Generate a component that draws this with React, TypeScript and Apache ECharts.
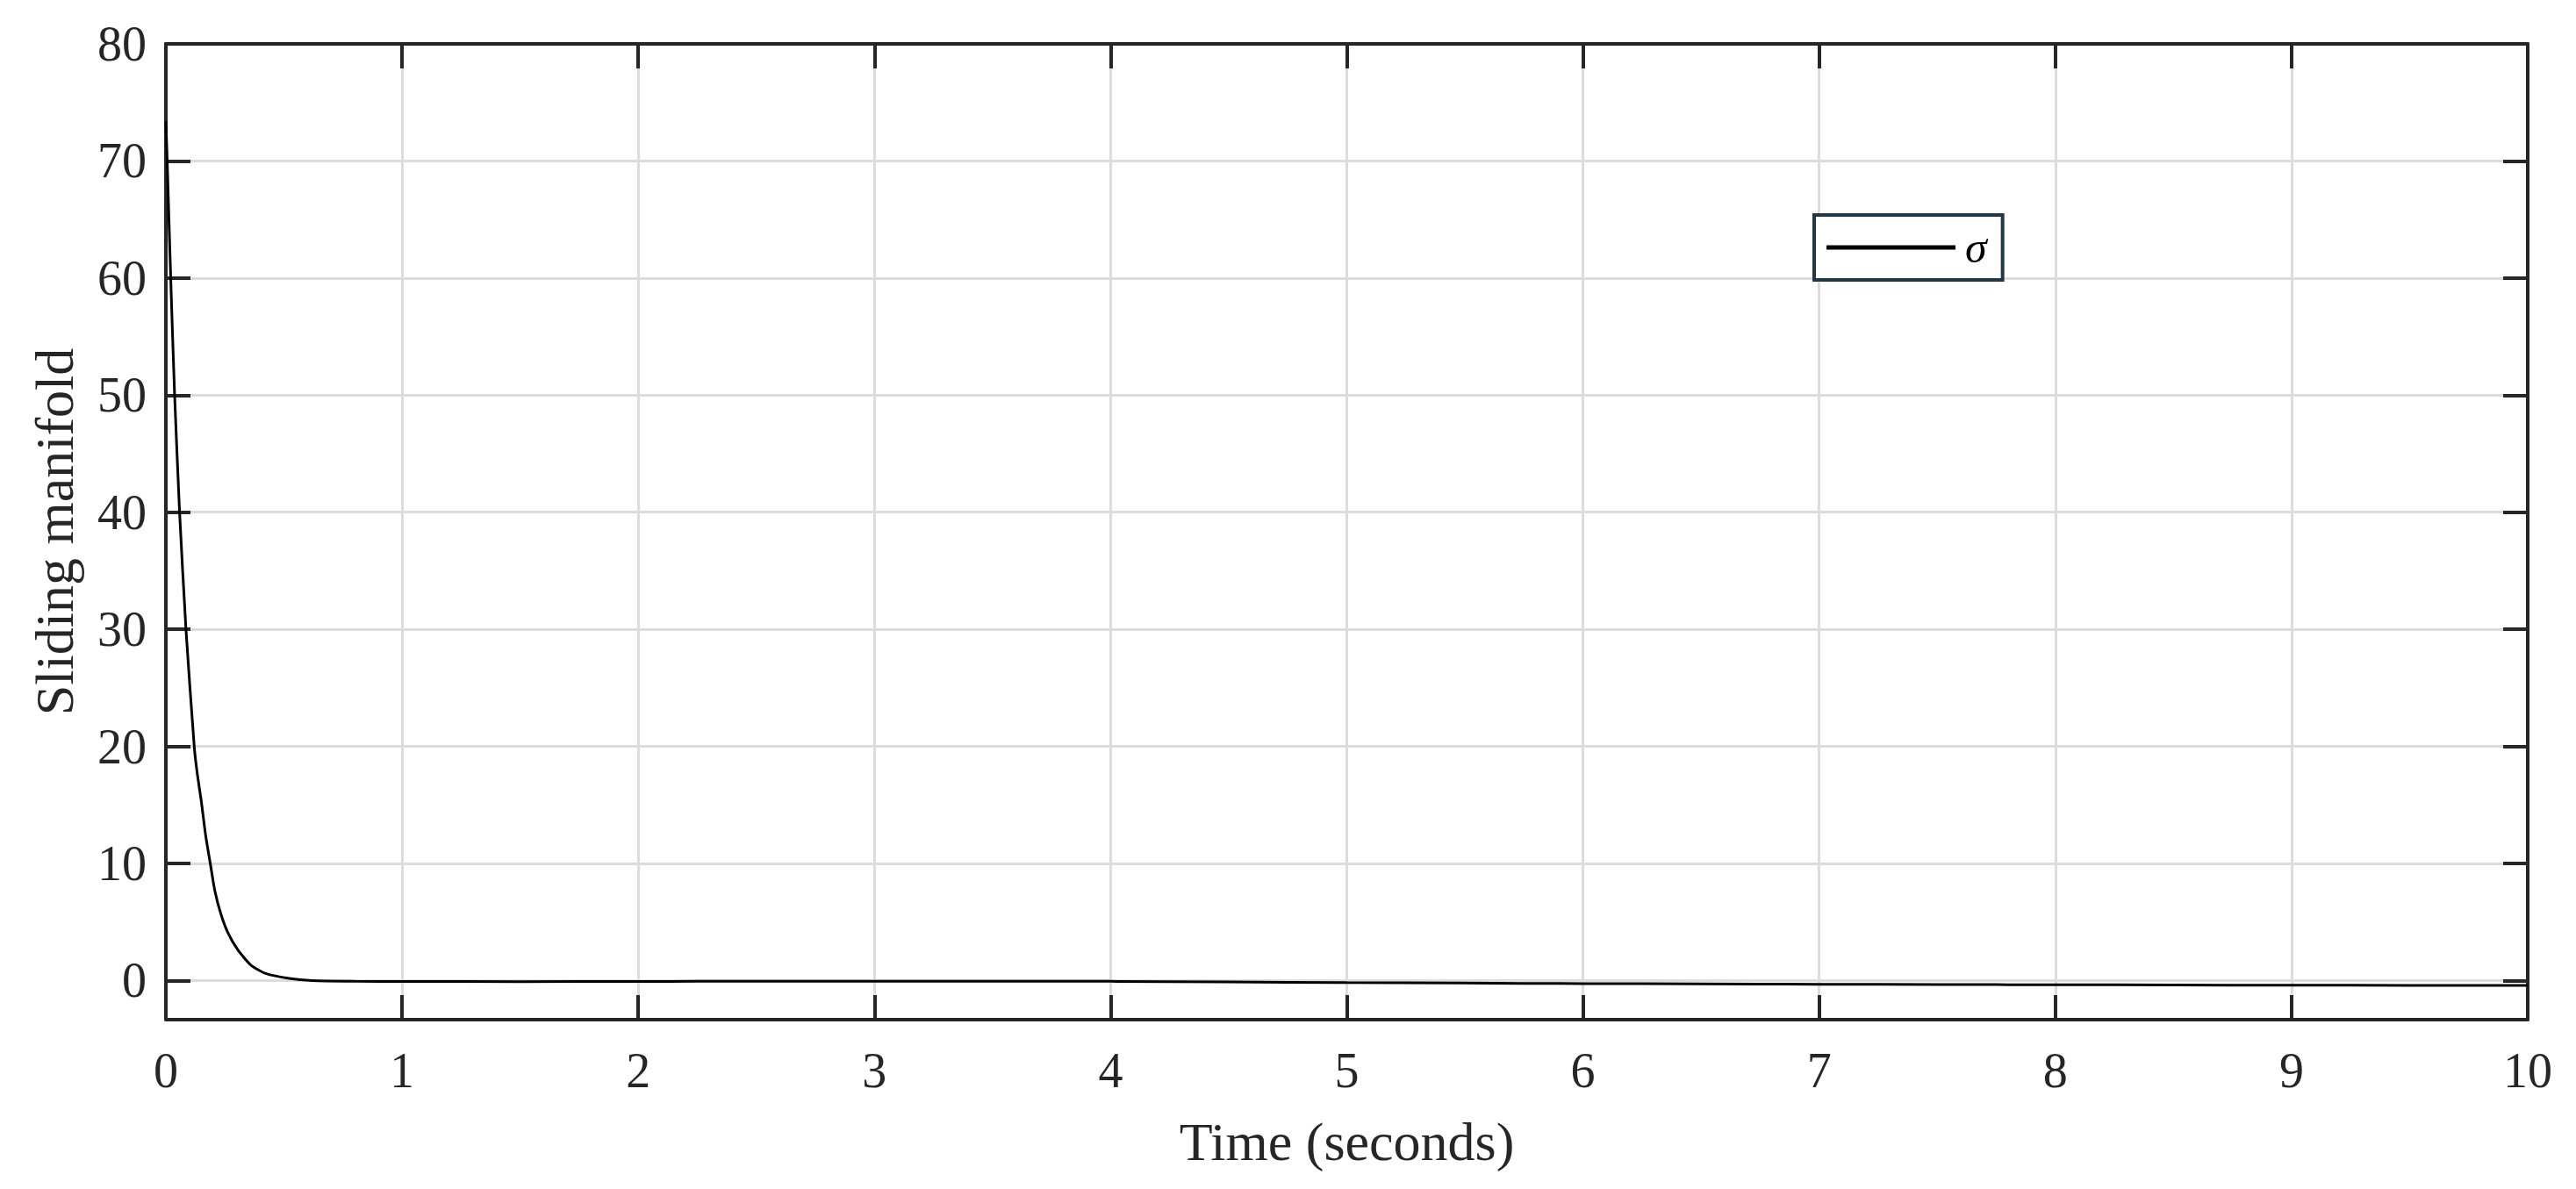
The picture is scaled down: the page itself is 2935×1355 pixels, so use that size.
import React, { useEffect, useRef } from "react";
import * as echarts from "echarts";

// Time samples (seconds) and sliding manifold values
const timeValues: number[] = [
  0, 0.004, 0.01, 0.022, 0.037, 0.058, 0.085, 0.12, 0.132, 0.15, 0.169, 0.188,
  0.206, 0.231, 0.262, 0.305, 0.361, 0.423, 0.522, 0.62, 0.8, 1.0, 1.5, 2.0,
  2.5, 3.0, 3.5, 4.0, 4.5, 5.0, 5.5, 6.0, 6.5, 7.0, 7.5, 8.0, 8.5, 9.0, 9.5, 10,
];
const sigmaValues: number[] = [
  73.4, 71, 67, 59, 50, 40, 30, 20, 17.8, 15.3, 12.3, 10,
  7.8, 5.8, 4.1, 2.6, 1.3, 0.6, 0.18, 0.0, -0.06, -0.08, -0.09, -0.08,
  -0.06, -0.06, -0.06, -0.07, -0.12, -0.18, -0.22, -0.26, -0.29, -0.32, -0.34, -0.36, -0.38, -0.4, -0.41, -0.42,
];
const seriesName = "σ";
const xAxisTitle = "Time (seconds)";
const yAxisTitle = "Sliding manifold";
const xMin = 0;
const xMax = 10;
const yMin = -3.34;
const yMax = 80;

const FONT = "'Liberation Serif', 'Times New Roman', serif";
const INK = "#262626";
const GRID = "#dcdcdc";

export default function App() {
  const ref = useRef<HTMLDivElement>(null);

  useEffect(() => {
    if (!ref.current) return;
    const chart = echarts.init(ref.current, undefined, { renderer: "svg" });
    const data = timeValues.map((t, i) => [t, sigmaValues[i]]);
    const tick = { show: true, inside: true, length: 28, lineStyle: { color: INK, width: 4 } };
    const line = { show: true, onZero: false, lineStyle: { color: INK, width: 4 } };
    chart.setOption({
      animation: false,
      backgroundColor: "#ffffff",
      grid: { left: 189, right: 55, top: 50, bottom: 193, containLabel: false },
      legend: {
        data: [{ name: seriesName, icon: "rect" }],
        left: 2067,
        top: 245,
        orient: "horizontal",
        itemWidth: 147,
        itemHeight: 5,
        padding: [6, 18, 6, 14],
        borderColor: "#223746",
        borderWidth: 4,
        backgroundColor: "#ffffff",
        itemStyle: { color: "#000000", borderWidth: 0 },
        textStyle: {
          fontFamily: FONT,
          fontStyle: "italic",
          fontSize: 50,
          lineHeight: 50,
          color: "#000",
          padding: [12, 0, 0, 6],
        },
      },
      xAxis: [
        {
          type: "value",
          position: "bottom",
          min: xMin,
          max: xMax,
          interval: 1,
          name: xAxisTitle,
          nameLocation: "middle",
          nameGap: 108,
          nameTextStyle: { fontFamily: FONT, fontSize: 62, color: INK },
          axisLine: line,
          axisTick: tick,
          axisLabel: { fontFamily: FONT, fontSize: 56, color: INK, margin: 30 },
          splitLine: { show: true, lineStyle: { color: GRID, width: 3 } },
        },
        {
          type: "value",
          position: "top",
          min: xMin,
          max: xMax,
          interval: 1,
          axisLine: line,
          axisTick: tick,
          axisLabel: { show: false },
          splitLine: { show: false },
        },
      ],
      yAxis: [
        {
          type: "value",
          position: "left",
          min: yMin,
          max: yMax,
          splitNumber: 8,
          name: yAxisTitle,
          nameLocation: "middle",
          nameRotate: 90,
          nameGap: 96,
          nameTextStyle: { fontFamily: FONT, fontSize: 62, color: INK },
          axisLine: line,
          axisTick: tick,
          axisLabel: {
            fontFamily: FONT,
            fontSize: 56,
            color: INK,
            margin: 22,
            showMinLabel: false,
            formatter: (v: number) => (Math.abs(v % 10) < 1e-9 ? String(v) : ""),
          },
          splitLine: { show: true, lineStyle: { color: GRID, width: 3 } },
        },
        {
          type: "value",
          position: "right",
          min: yMin,
          max: yMax,
          splitNumber: 8,
          axisLine: line,
          axisTick: tick,
          axisLabel: { show: false },
          splitLine: { show: false },
        },
      ],
      series: [
        {
          name: seriesName,
          type: "line",
          xAxisIndex: 0,
          yAxisIndex: 0,
          data,
          showSymbol: false,
          symbol: "none",
          smooth: 0.2,
          lineStyle: { color: "#000000", width: 3 },
          itemStyle: { color: "#000000" },
          z: 3,
        },
      ],
    });
    return () => chart.dispose();
  }, []);

  return (
    <div
      ref={ref}
      style={{ position: "absolute", left: 0, top: 0, width: 2935, height: 1355, background: "#fff" }}
    />
  );
}
